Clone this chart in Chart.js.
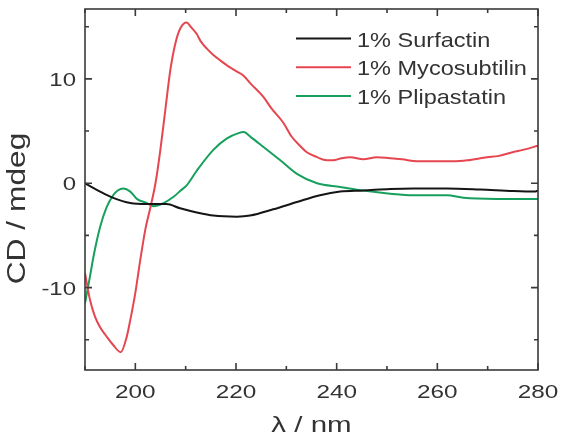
<!DOCTYPE html>
<html><head><meta charset="utf-8">
<script src="https://cdn.jsdelivr.net/npm/chart.js@4/dist/chart.umd.min.js"></script>
<style>html,body{margin:0;padding:0;background:#fff}</style>
</head><body>
<canvas id="c" width="570" height="442" style="display:block"></canvas>
<script>
const seriesLabels = ['1% Surfactin', '1% Mycosubtilin', '1% Plipastatin'];
const seriesColors = ['#151515', '#e5464f', '#17a05d'];

const surfactinX = [190, 193, 195.6, 199, 202.3, 206.2, 208.9, 212.2, 215.5, 220.2, 222.8, 227.4, 232.1, 236.7, 240.7, 245.3, 250.6, 255.3, 261.9, 268.5, 275.1, 279.5, 280];
const surfactinY = [0.0, -0.8, -1.4, -1.9, -2.0, -2.0, -2.4, -2.8, -3.1, -3.2, -3.1, -2.5, -1.8, -1.15, -0.8, -0.7, -0.55, -0.5, -0.5, -0.6, -0.75, -0.8, -0.7];

const mycoX = [190, 191, 192, 193, 194.3, 195.6, 197.1, 198.3, 199, 200, 201, 202, 203, 204, 205, 206, 207, 208, 209, 210.2, 211, 212.2, 213, 214.2, 215.5, 216.8, 218.8, 220.2, 221.5, 223, 225.4, 227, 229.4, 231, 232.7, 234, 236.1, 238, 239.3, 241, 242.7, 245.3, 248, 250.6, 253, 255.9, 259, 263.2, 266, 269.9, 272, 275.1, 277, 280];
const mycoY = [-8.6, -11.2, -12.8, -13.8, -14.7, -15.5, -16.2, -14.7, -13.1, -10.5, -7.3, -4.4, -2.3, 0.0, 3.3, 7.2, 11.0, 13.5, 14.9, 15.4, 15.0, 14.3, 13.6, 12.9, 12.3, 11.8, 11.1, 10.7, 10.3, 9.5, 8.3, 7.2, 5.8, 4.5, 3.6, 3.0, 2.5, 2.2, 2.2, 2.4, 2.5, 2.3, 2.5, 2.4, 2.3, 2.1, 2.1, 2.1, 2.2, 2.5, 2.6, 3.0, 3.2, 3.6];

const plipX = [190, 191, 191.7, 193, 194.3, 195.6, 196.5, 197.6, 199, 200.3, 202.3, 203.6, 205.6, 207.6, 209, 210.2, 212.2, 215.5, 218.2, 220.5, 221.5, 223, 225.4, 228.8, 232.1, 236.1, 240.7, 245.3, 250.6, 255.3, 261.9, 265.2, 271.8, 280];
const plipY = [-11.5, -8.9, -7.0, -4.2, -2.3, -1.15, -0.7, -0.5, -0.8, -1.5, -1.9, -2.2, -1.9, -1.3, -0.7, -0.2, 1.2, 3.2, 4.3, 4.8, 4.9, 4.4, 3.5, 2.2, 0.9, 0.0, -0.35, -0.7, -1.0, -1.15, -1.15, -1.4, -1.5, -1.5];

const xTickValues = [200, 220, 240, 260, 280];
const yTickValues = [-10, 0, 10];
const xMinorValues = [190, 200, 210, 220, 230, 240, 250, 260, 270, 280];
const yMinorValues = [-15, -10, -5, 0, 5, 10, 15];
const xTitle = 'λ / nm';
const yTitle = 'CD / mdeg';

function pts(xs, ys) { return xs.map((x, i) => ({ x: x, y: ys[i] })); }

const allX = [surfactinX, mycoX, plipX];
const allY = [surfactinY, mycoY, plipY];

const datasets = seriesLabels.map((lab, i) => ({
  label: lab,
  data: pts(allX[i], allY[i]),
  borderColor: seriesColors[i],
  borderWidth: 2,
  pointRadius: 0,
  fill: false,
  cubicInterpolationMode: 'monotone',
  tension: 0.4
}));

const TXT = '#333333';
const FONT = '"Liberation Sans", Arial, Helvetica, sans-serif';

function wideText(ctx, text, x, y, sx, align, rot) {
  ctx.save();
  ctx.translate(x, y);
  if (rot) ctx.rotate(rot);
  ctx.scale(sx, 1);
  ctx.textAlign = align;
  ctx.fillText(text, 0, 0);
  ctx.restore();
}

const framePlugin = {
  id: 'frame',
  afterDatasetsDraw(chart) {
    const { ctx, chartArea: a, scales } = chart;
    const x = scales.x, y = scales.y;
    ctx.save();
    ctx.strokeStyle = '#3a3a3a';
    ctx.lineWidth = 1.6;
    ctx.strokeRect(a.left, a.top, a.right - a.left, a.bottom - a.top);
    ctx.beginPath();
    xMinorValues.forEach(v => {
      const px = x.getPixelForValue(v);
      const L = (v % 20 === 0) ? 7 : 4;
      ctx.moveTo(px, a.bottom); ctx.lineTo(px, a.bottom - L);
      ctx.moveTo(px, a.top); ctx.lineTo(px, a.top + L);
    });
    yMinorValues.forEach(v => {
      const py = y.getPixelForValue(v);
      const L = (v % 10 === 0) ? 7 : 4;
      ctx.moveTo(a.left, py); ctx.lineTo(a.left + L, py);
      ctx.moveTo(a.right, py); ctx.lineTo(a.right - L, py);
    });
    ctx.stroke();

    ctx.fillStyle = TXT;
    ctx.textBaseline = 'alphabetic';
    // tick labels
    ctx.font = '19px ' + FONT;
    x.ticks.forEach(t => {
      wideText(ctx, String(t.value), x.getPixelForValue(t.value), a.bottom + 27.5, 1.28, 'center');
    });
    y.ticks.forEach(t => {
      wideText(ctx, String(t.value), a.left - 9, y.getPixelForValue(t.value) + 7, 1.26, 'right');
    });
    // axis titles
    ctx.font = '22px ' + FONT;
    wideText(ctx, xTitle, (a.left + a.right) / 2, 432, 1.34, 'center');
    ctx.font = '25px ' + FONT;
    wideText(ctx, yTitle, 25, 208.5, 1.27, 'center', -Math.PI / 2);

    // legend
    ctx.font = '21px ' + FONT;
    chart.data.datasets.forEach((ds, i) => {
      const yy = 38.5 + i * 28.8;
      ctx.strokeStyle = ds.borderColor;
      ctx.lineWidth = 2;
      ctx.beginPath(); ctx.moveTo(296, yy); ctx.lineTo(351, yy); ctx.stroke();
      ctx.fillStyle = TXT;
      wideText(ctx, ds.label, 357, yy + 8, 1.12, 'left');
    });
    ctx.restore();
  }
};

new Chart(document.getElementById('c'), {
  type: 'line',
  data: { datasets: datasets },
  options: {
    responsive: false,
    animation: false,
    layout: { padding: { left: 0, right: 32, top: 9, bottom: 0 } },
    plugins: { legend: { display: false }, tooltip: { enabled: false } },
    scales: {
      x: {
        type: 'linear', min: 190, max: 280,
        border: { display: false },
        grid: { drawOnChartArea: false, drawTicks: false },
        afterBuildTicks: s => { s.ticks = xTickValues.map(v => ({ value: v })); },
        afterFit: s => { s.height = 72; s.paddingLeft = 0; s.paddingRight = 0; },
        ticks: { display: false },
        title: { display: false }
      },
      y: {
        type: 'linear', min: -17.9, max: 16.7,
        border: { display: false },
        grid: { drawOnChartArea: false, drawTicks: false },
        afterBuildTicks: s => { s.ticks = yTickValues.map(v => ({ value: v })); },
        afterFit: s => { s.width = 85; s.paddingTop = 0; s.paddingBottom = 0; },
        ticks: { display: false },
        title: { display: false }
      }
    }
  },
  plugins: [framePlugin]
});
</script>
</body></html>
